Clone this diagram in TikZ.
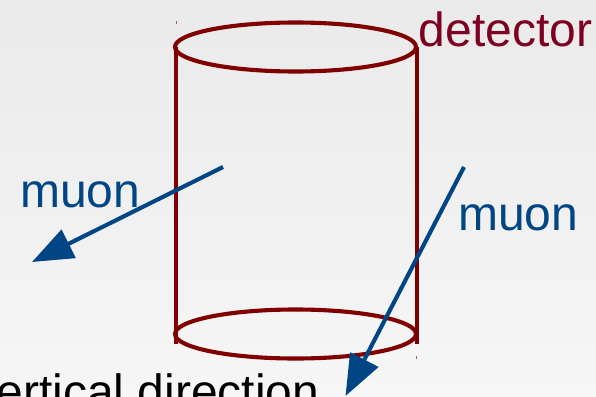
\documentclass[tikz,border=0pt]{standalone}
\usepackage{fontspec}
\setmainfont{Liberation Sans}
\usetikzlibrary{arrows.meta,shapes.geometric}
\definecolor{cyl}{HTML}{800000}
\definecolor{det}{HTML}{7E0021}
\definecolor{mu}{HTML}{004586}
\definecolor{bgtop}{HTML}{EAEAEA}
\definecolor{bgbot}{HTML}{F6F6F6}
\tikzset{
  cylline/.style={draw=cyl,line width=4.1pt},
  muarrow/.style={draw=mu,line width=4.1pt,-{Triangle[length=41pt,width=31pt,fill=mu]}},
  lab/.style={inner sep=0pt,anchor=base west,font=\fontsize{48}{50}\selectfont},
  speck/.style={draw=cyl,line width=1pt,opacity=.6}
}
\begin{document}
\begin{tikzpicture}[x=1pt,y=-1pt]
\useasboundingbox (0,0) rectangle (596,396);
\clip (0,0) rectangle (596,396);
\shade[top color=bgtop,bottom color=bgbot] (0,0) rectangle (596,396);
\draw[speck] (176,21) -- (176,24);
\draw[speck] (416,356) -- (416,359);
\coordinate (tl) at (176,47);
\coordinate (tr) at (417,47);
\coordinate (bl) at (176,344);
\coordinate (br) at (417,344);
\draw[cylline] (tl) -- (bl);
\draw[cylline] (tr) -- (br);
\node[cylline,ellipse,minimum width=241pt,minimum height=49pt,inner sep=0pt] (top) at (295.5,47) {};
\node[cylline,ellipse,minimum width=241pt,minimum height=49pt,inner sep=0pt] (bot) at (295.5,334) {};
\node[lab,text=det] (dettext) at (418.5,47) {detector};
\node[lab,text=mu] (muL) at (20,207) {muon};
\node[lab,text=mu] (muR) at (458,230) {muon};
\node[lab,text=black] (vert) at (-33,408.5) {Vertical direction};
\coordinate (aS) at (223,167);
\coordinate (aE) at (32,262);
\coordinate (bS) at (464,167);
\coordinate (bE) at (345.5,396);
\draw[muarrow] (aS) -- (aE);
\draw[muarrow] (bS) -- (bE);
\end{tikzpicture}
\end{document}
